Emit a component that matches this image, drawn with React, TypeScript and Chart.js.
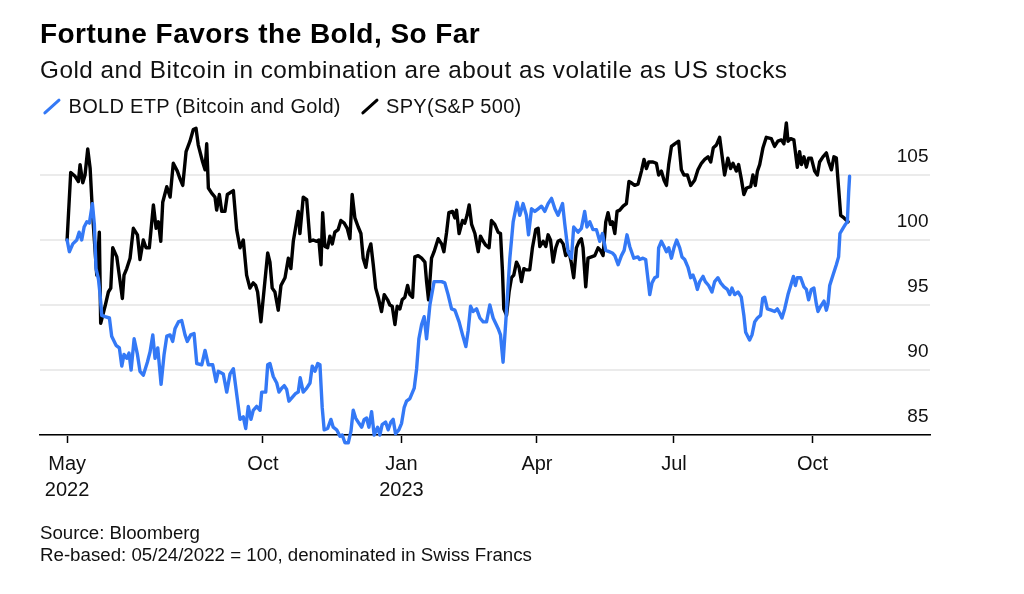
import React, { useEffect, useRef } from 'react';
import { Chart, registerables } from 'chart.js';

Chart.register(...registerables);

// ---------- text ----------
const TITLE = 'Fortune Favors the Bold, So Far';
const SUBTITLE = 'Gold and Bitcoin in combination are about as volatile as US stocks';
const SERIES_LABELS = ['BOLD ETP (Bitcoin and Gold)', 'SPY(S&P 500)'];
const SERIES_COLORS = ['#3479f6', '#000000'];
const NOTES = ['Source: Bloomberg', 'Re-based: 05/24/2022 = 100, denominated in Swiss Francs'];

// ---------- axes (x = days since 2022-05-24) ----------
const X_TICK_DAYS = [0, 130, 222, 312, 403, 495];
const X_TICK_LABELS = [['May', '2022'], ['Oct'], ['Jan', '2023'], ['Apr'], ['Jul'], ['Oct']];
const Y_TICKS = [85, 90, 95, 100, 105];

// ---------- BOLD ETP (re-based, CHF) ----------
const BOLD_DAYS = [
  0, 1.5, 3.8, 6.4, 8, 9.7, 11.3, 13.1, 14.8, 16.8, 18.1, 19.2, 20.8, 21.9, 23, 25.2, 28.1, 29.6, 32.5, 34.7,
  36.3, 37.8, 39.6, 41.1, 42.5, 44.5, 46.7, 48.4, 50.6, 53.3, 55.1, 56.9, 58.4, 60.2, 62.4, 64.4, 66.2, 68.4, 70.1, 71.7,
  73.9, 76.1, 78.3, 79.8, 82.1, 84.3, 86.1, 89.4, 91.6, 93.8, 96.7, 98.9, 100.4, 103.7, 106, 108.2, 110.4, 112.1, 114.8, 117,
  118.6, 120.3, 122.1, 123.6, 125.9, 128.1, 129.2, 131.9, 133.2, 134.7, 136.9, 139.2, 140.7, 142.5, 144.2, 145.8, 147.3, 149.5, 151.8, 153.5,
  154.8, 156.8, 159.1, 161.3, 162.8, 164.6, 166.4, 167.9, 169.4, 170.7, 173, 175.2, 176.7, 179, 181.2, 182.7, 184.5, 186.7, 188.5, 190,
  191.6, 193.8, 195.6, 197.3, 198.9, 200.4, 202.2, 203.9, 206.2, 207.7, 209.2, 211.5, 213.2, 215, 216.5, 218.1, 220.3, 222.1, 223.8, 225.4,
  227.6, 230.5, 232.1, 233.6, 235.4, 237.1, 238.7, 240.9, 243.7, 245.8, 248.7, 250.8, 253, 255.3, 257.5, 260.3, 262.6, 264.8, 266.3, 267.9,
  269.6, 271.9, 274.1, 276.3, 278.5, 280.7, 282.9, 286.2, 287.8, 289.5, 291.3, 294, 296.2, 298.8, 300.6, 302.8, 305, 306.4, 308.4, 310.6,
  312.8, 315, 317.2, 319.4, 321.7, 323.9, 326, 329, 330.5, 332.7, 334.9, 336.4, 339.3, 341.5, 343.7, 345.2, 347.1, 349.2, 351.5, 353.7,
  355.5, 357.7, 359.9, 362.1, 363.7, 365.9, 368.1, 369.9, 371.8, 373.6, 376.3, 379.1, 380.2, 382.4, 384.2, 385.4, 386.9, 388.4, 390.2, 392,
  392.8, 394.6, 396.4, 398, 399.5, 401.3, 403, 404.8, 406.8, 408.3, 410.1, 412.3, 414.1, 415.6, 417.2, 418.5, 420.1, 422.3, 423.8, 426,
  428.2, 430, 432.2, 434, 436.2, 438.4, 440, 441.5, 443.3, 445.5, 447.7, 449.4, 450.6, 453.2, 454.8, 456.6, 458.4, 460.5, 461.9, 463.2,
  465, 467.6, 469.8, 471.6, 473.1, 474.7, 476.5, 478.7, 480.5, 482.3, 483.6, 484.9, 487.1, 489.3, 490.9, 492.4, 494.2, 495.9, 497.5, 498.6,
  500.4, 502.6, 504.2, 505.3, 506.4, 508.6, 510.8, 512.3, 513.2, 515.2, 516.8, 518.1, 519, 519.6,
];
const BOLD_VALUES = [
  100, 99.1, 99.7, 100, 100.6, 100, 101, 101.4, 101.3, 102.8, 101.2, 97.8, 97, 95.8, 94.2, 94.1, 94, 92.6, 91.9, 91.7,
  90.3, 91.2, 90.9, 91.3, 90, 92.4, 91.2, 89.9, 89.6, 90.6, 91.4, 92.7, 90.9, 91.7, 88.9, 91.2, 92.6, 92.7, 92.2, 93.2,
  93.7, 93.8, 92.7, 92.2, 92.7, 92.8, 90.5, 90.4, 91.5, 90.4, 90.4, 89.1, 89.9, 89.7, 88.3, 89.7, 90.1, 88.6, 86.2, 86.4,
  85.5, 87.2, 86.2, 86.9, 87.2, 86.9, 88.3, 88.3, 90.4, 90.5, 89.5, 89, 88.3, 88.6, 88.8, 88.5, 87.6, 87.9, 88.2, 88.3,
  89.4, 88.3, 88.6, 89, 90.3, 89.9, 90.5, 90.4, 87.1, 85.4, 85.5, 86.2, 85.6, 85.4, 84.9, 85, 84.4, 84.4, 85.3, 86.9,
  86.3, 85.9, 85.6, 86.2, 86.3, 85.6, 86.8, 85, 85.6, 85, 85.8, 86, 85.4, 86, 86.2, 85.1, 85.4, 85.9, 87.1, 87.6,
  87.8, 88.6, 90.1, 92.4, 93.5, 94.1, 92.4, 95, 96.8, 96.8, 96.8, 96.7, 95.8, 94.7, 94.6, 93.7, 92.7, 91.8, 93, 94.9,
  94.5, 94.7, 94, 93.7, 93.7, 95, 94, 93.2, 92.7, 90.6, 93.7, 98.6, 101.4, 102.9, 101.9, 102.8, 101.9, 100.4, 102.4, 102.2,
  102.4, 102.6, 102.2, 102.8, 103.2, 102.4, 101.9, 102.8, 101.2, 99.1, 98.6, 101, 100.6, 100.9, 102.2, 101, 101.4, 100.8, 100.8, 99.9,
  100.5, 99.2, 99.1, 99, 98.8, 98.1, 98.8, 99.2, 100.4, 99.5, 98.6, 98.7, 98.5, 98.6, 98.5, 97.3, 95.8, 96.7, 97.1, 97.2,
  99.4, 99.9, 99.5, 99.1, 99.4, 98.6, 99.4, 100, 99.4, 98.7, 98.5, 97.9, 97.1, 97.3, 96.8, 96.2, 96.8, 97.2, 96.8, 96.5,
  96, 96.8, 97.1, 96.7, 96.4, 96.2, 95.8, 96.3, 95.8, 96, 95.6, 94.2, 92.9, 92.3, 92.7, 93.7, 94, 94.2, 95.5, 95.6,
  94.7, 94.6, 94.5, 94.7, 94.4, 94, 94.7, 95.8, 96.5, 97.2, 96.5, 97.1, 97.1, 96.4, 96.2, 95.4, 96.2, 96.3, 95.1, 94.5,
  94.9, 95.3, 94.6, 95.1, 96.5, 97.3, 98.1, 98.7, 100.5, 100.9, 101.2, 101.4, 103.7, 104.9,
];

// ---------- SPY (S&P 500, re-based, CHF) ----------
const SPY_DAYS = [
  0, 2.4, 5.3, 7.5, 8.6, 10.4, 11.9, 13.7, 15.3, 16.8, 19.7, 21.4, 22.3, 25.2, 27.4, 29, 30.3, 33, 35.2, 36.7,
  37.8, 39.6, 41.8, 44, 46.7, 48.4, 50.6, 52.4, 54.6, 57.3, 59.1, 60.6, 62.2, 63.5, 66.2, 68.4, 70.5, 73.2, 75, 76.8,
  79, 81.6, 83.8, 85.6, 87.1, 90, 91.6, 92.7, 93.8, 96, 98.2, 99.3, 101.1, 102.7, 104.8, 106.4, 110.4, 112.6, 114.8, 117,
  119.2, 121.4, 123.6, 125.2, 126.5, 128.7, 130.9, 133.2, 134.7, 136.2, 138, 140.2, 142, 144.7, 146.9, 148.6, 150.2, 152.4, 153.5, 154.6,
  156.8, 159.1, 161.3, 163.4, 165.7, 167.2, 168.6, 169.7, 171.2, 173, 174.5, 176.1, 177.8, 180, 181.8, 184, 186, 187.8, 189.3, 191.1,
  193.3, 195.1, 196.6, 198.4, 199.9, 201.7, 203.3, 204.9, 206.6, 208.8, 210.6, 212.8, 214.3, 215.9, 217.7, 219.2, 221, 222.5, 224.3, 226.1,
  227.6, 229.4, 230.9, 233.1, 235.4, 237.6, 238.7, 240, 242, 243.7, 246.4, 248.7, 250.2, 252, 253.5, 255.9, 257.5, 258.6, 260.3, 262.6,
  264.1, 265.6, 267, 268.6, 270.8, 273, 274.5, 276.3, 278, 280.2, 281.8, 284, 286.2, 287.8, 289.1, 290, 291.8, 293.5, 295.1, 296.6,
  298.4, 300.1, 301.7, 303.3, 305, 307.2, 309, 311.2, 312.8, 313.9, 316.1, 317.9, 319.4, 321, 322.7, 324.5, 326, 327.6, 329.4, 331.1,
  333.3, 334.9, 336.4, 338.2, 340, 341.5, 342.6, 344.4, 345.9, 348.2, 350.4, 352.6, 354.2, 355.9, 357.7, 359.2, 360.8, 362.1, 363.7, 365.2,
  367, 369.2, 371.4, 373.1, 374.7, 376.9, 379.1, 381.4, 383.1, 384.7, 386.2, 389.1, 391.3, 392.8, 394.6, 396.4, 398, 399.5, 401.3, 403.5,
  406.1, 407.9, 409.6, 411.9, 414.1, 416.7, 418.9, 421.2, 423.4, 425.6, 427.4, 429.1, 431.1, 433.3, 434.9, 436.6, 438.8, 440.6, 442.2, 444.4,
  445.9, 447.7, 449.4, 451.2, 453.9, 455.4, 457, 458.4, 459.9, 462.1, 464.3, 467.6, 469.8, 472, 474.3, 476, 477.6, 478.7, 480.5, 482.6,
  484.9, 486.4, 487.6, 489.3, 490.9, 492.4, 494.2, 496.4, 498.2, 499.7, 501.9, 504.2, 505.7, 507.5, 509.2, 510.8, 512.3, 513.7, 515.9, 518.6,
];
const SPY_VALUES = [
  100, 105.2, 104.9, 104.5, 105.8, 104.4, 105, 107, 105.5, 102.2, 97.3, 100.6, 93.6, 94.9, 96, 96.3, 99.4, 98.7, 96.8, 95.5,
  97.3, 97.8, 98.6, 100.9, 100.4, 98.5, 100, 99.4, 99.4, 102.7, 100.9, 101.4, 99.9, 102.9, 104.1, 103.3, 105.9, 105.3, 104.7, 104.2,
  106.8, 107.6, 108.5, 108.6, 107.3, 106, 105.4, 107.4, 104, 103.6, 103.3, 102.3, 103.5, 102.2, 102.2, 103.5, 103.8, 100.8, 99.4, 100,
  97.3, 96.3, 96.7, 96.5, 96, 93.7, 96.3, 99, 98.3, 96.3, 96, 94.6, 96.5, 97.1, 98.6, 97.8, 99.9, 101.4, 102.2, 100.5,
  103.3, 103.1, 99.9, 100, 99.9, 100, 98.1, 102.1, 99.5, 99.4, 100.3, 99.7, 100.6, 100.8, 101.5, 101.3, 100.9, 100.1, 103.5, 101.7,
  101, 100.5, 98.6, 97.9, 99.1, 99.7, 98.1, 96.3, 95.6, 94.5, 95.8, 95.4, 95, 94.9, 93.5, 94.9, 94.7, 95.4, 95.6, 96.5,
  95.8, 95.6, 98.7, 98.8, 98.6, 98.3, 96.8, 95.4, 98.6, 99.1, 100.1, 99.7, 99.1, 100.6, 102.1, 102.2, 101.7, 102.3, 100.5, 101.5,
  101.3, 101.9, 102.7, 101.2, 100.5, 99.1, 100.3, 99.9, 99.6, 99.4, 101.5, 101.2, 100.6, 100.5, 97.6, 94.7, 94.2, 96, 97.1, 97.3,
  98.3, 97.9, 96.8, 97.8, 97.7, 97.7, 99.4, 100.8, 100.9, 99.5, 99.9, 99.5, 100.4, 100, 98.3, 99.4, 99.9, 100, 99.7, 98.8,
  99.1, 98.2, 97.1, 99.4, 99.9, 100.1, 99.4, 96.4, 98.6, 98.7, 98.8, 99.4, 99.2, 98.8, 101.4, 102.1, 101.2, 101.4, 100.5, 102.2,
  102.3, 102.6, 102.8, 104.5, 104.4, 104.2, 104.3, 105.3, 106.2, 105.5, 106, 106, 105.9, 105, 105.3, 104.6, 104.2, 105.8, 107.2, 107.4,
  107.6, 105.4, 105, 105, 104.2, 104.6, 105.4, 105.9, 106.2, 106.4, 106, 107.1, 107.3, 107.9, 106.5, 105, 106.3, 105.5, 105.9, 105.3,
  105.8, 104.7, 103.5, 104, 104.1, 105, 104.2, 105.3, 105.8, 107.1, 107.9, 107.8, 107.2, 107.6, 107.7, 107.4, 109, 107.6, 107.8, 107.7,
  105.6, 106.8, 105.8, 106.4, 105.6, 106.3, 106.3, 105.3, 105, 106, 106.4, 106.7, 106, 105.4, 106.4, 106.3, 104, 101.9, 101.7, 101.4,
];

const FONT = "'Liberation Sans', Arial, Helvetica, sans-serif";

function toPoints(days: number[], values: number[]) {
  return days.map((d, i) => ({ x: d, y: values[i] }));
}

function TextLine(props: { text: string; left: number; top: number; size: number; bold?: boolean; spacing?: number; color?: string }) {
  return (
    <div
      style={{
        position: 'absolute',
        left: props.left,
        top: props.top,
        fontFamily: FONT,
        fontSize: props.size,
        lineHeight: 1,
        fontWeight: props.bold ? 700 : 400,
        letterSpacing: props.spacing ?? 0,
        color: props.color ?? '#111',
        whiteSpace: 'nowrap',
      }}
    >
      {props.text}
    </div>
  );
}

function Slash(props: { cx: number; cy: number; color: string }) {
  return (
    <div
      style={{
        position: 'absolute',
        left: props.cx - 11,
        top: props.cy - 1.6,
        width: 22,
        height: 3.2,
        borderRadius: 1.6,
        background: props.color,
        transform: 'rotate(-42deg)',
      }}
    />
  );
}

export default function App() {
  const canvasRef = useRef<HTMLCanvasElement | null>(null);

  useEffect(() => {
    const canvas = canvasRef.current;
    if (!canvas) return;
    const lineStyle = {
      borderWidth: 3.4,
      pointRadius: 0,
      tension: 0,
      borderJoinStyle: 'round',
      borderCapStyle: 'round',
      clip: false,
    };
    const chart = new Chart(canvas, {
      type: 'line',
      data: {
        datasets: [
          {
            label: SERIES_LABELS[0],
            data: toPoints(BOLD_DAYS, BOLD_VALUES),
            borderColor: SERIES_COLORS[0],
            backgroundColor: SERIES_COLORS[0],
            ...lineStyle,
          },
          {
            label: SERIES_LABELS[1],
            data: toPoints(SPY_DAYS, SPY_VALUES),
            borderColor: SERIES_COLORS[1],
            backgroundColor: SERIES_COLORS[1],
            ...lineStyle,
          },
        ],
      },
      options: {
        responsive: false,
        animation: false,
        events: [],
        layout: { padding: { left: 40, right: 94, top: 116.5, bottom: 79 } },
        plugins: {
          legend: { display: false },
          tooltip: { enabled: false },
          title: { display: false },
        },
        scales: {
          x: {
            type: 'linear',
            min: -18,
            max: 573,
            afterBuildTicks: (s: any) => {
              s.ticks = X_TICK_DAYS.map((v) => ({ value: v }));
            },
            afterFit: (s: any) => {
              s.height = 80;
            },
            grid: {
              display: true,
              drawOnChartArea: false,
              drawTicks: true,
              tickLength: 8,
              tickColor: '#000',
              tickWidth: 1.5,
            },
            border: { display: true, color: '#000', width: 1.5 },
            ticks: {
              autoSkip: false,
              maxRotation: 0,
              minRotation: 0,
              padding: 9,
              color: '#111',
              font: { family: FONT, size: 20, lineHeight: 1.27 },
              callback: (_v: any, i: number) => X_TICK_LABELS[i],
            },
          },
          y: {
            type: 'linear',
            position: 'right',
            min: 85,
            max: 109.5,
            afterBuildTicks: (s: any) => {
              s.ticks = Y_TICKS.map((v) => ({ value: v }));
            },
            afterFit: (s: any) => {
              s.width = 0;
            },
            grid: { color: '#ebebeb', lineWidth: 2, drawTicks: false },
            border: { display: false },
            ticks: {
              mirror: true,
              crossAlign: 'near',
              padding: -1.5,
              labelOffset: -18,
              color: '#111',
              font: { family: FONT, size: 19 },
              callback: (v: any) => String(v),
            },
          },
        },
      },
    } as any);
    return () => chart.destroy();
  }, []);

  return (
    <div style={{ position: 'fixed', left: 0, top: 0, width: 1024, height: 594, background: '#fff', overflow: 'hidden' }}>
      <canvas ref={canvasRef} width={1024} height={594} style={{ position: 'absolute', left: 0, top: 0 }} />
      <TextLine text={TITLE} left={40} top={20.4} size={28} bold spacing={0.45} color="#000" />
      <TextLine text={SUBTITLE} left={40} top={57.8} size={24.3} spacing={0.5} />
      <Slash cx={51.5} cy={106.5} color={SERIES_COLORS[0]} />
      <TextLine text={SERIES_LABELS[0]} left={68.5} top={96.4} size={20} spacing={0.3} />
      <Slash cx={369.5} cy={106.5} color={SERIES_COLORS[1]} />
      <TextLine text={SERIES_LABELS[1]} left={386} top={96.4} size={20} spacing={0.3} />
      <TextLine text={NOTES[0]} left={40} top={524.2} size={18.7} />
      <TextLine text={NOTES[1]} left={40} top={545.9} size={18.7} />
    </div>
  );
}
